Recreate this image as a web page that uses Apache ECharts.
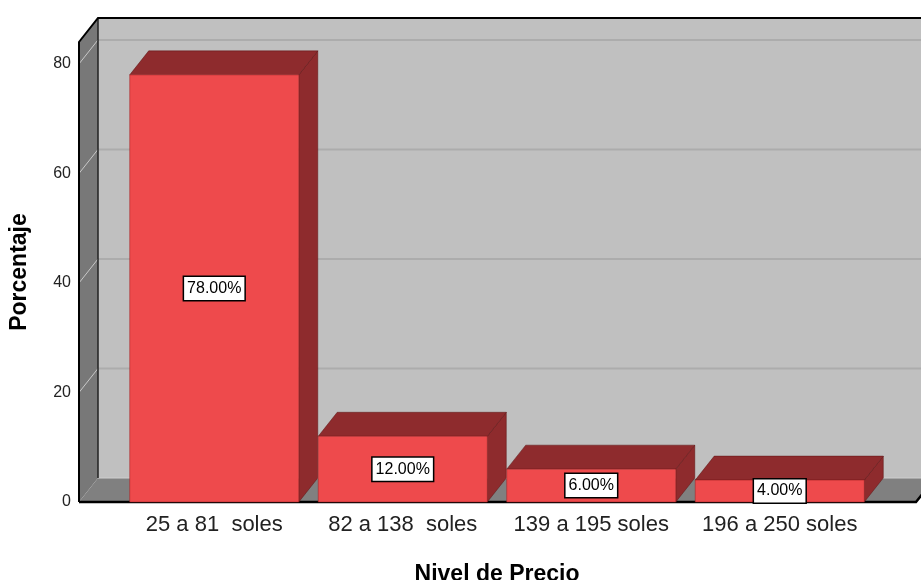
<!DOCTYPE html>
<html>
<head>
<meta charset="utf-8">
<script src="https://cdn.jsdelivr.net/npm/echarts@6/dist/echarts.min.js"></script>
<style>
  html, body { margin: 0; padding: 0; background: #fff; }
  #chart { width: 921px; height: 580px; }
</style>
</head>
<body>
<div id="chart"></div>
<script>
const categories = ['25 a 81  soles', '82 a 138  soles', '139 a 195 soles', '196 a 250 soles'];
const percentages = [78, 12, 6, 4];
const yTicks = [0, 20, 40, 60, 80];

// fake 3d depth
const DX = 19;
const DY = -24;
const FONT = '"Liberation Sans", Arial, sans-serif';

const chart = echarts.init(document.getElementById('chart'));

// walls, floor and grid lines, drawn once from the grid rect
const renderBackground = (params, api) => {
  const cs = params.coordSys;
  const L = cs.x - 41;
  const R = cs.x + cs.width + 42;
  const top = cs.y;
  const bottom = cs.y + cs.height;
  const children = [];
  // back wall
  children.push({ type: 'rect', shape: { x: L + DX, y: top + DY, width: R - L + 40, height: bottom - top },
    style: { fill: '#c0c0c0' } });
  // left wall
  children.push({ type: 'polygon', shape: { points: [[L, top], [L + DX, top + DY], [L + DX, bottom + DY], [L, bottom]] },
    style: { fill: '#787878' } });
  // floor
  children.push({ type: 'polygon', shape: { points: [[L, bottom], [L + DX, bottom + DY], [R + DX, bottom + DY], [R, bottom]] },
    style: { fill: '#808080' } });
  children.push({ type: 'line', shape: { x1: L + DX, y1: bottom + DY, x2: R + DX, y2: bottom + DY },
    style: { stroke: '#cfcfcf', lineWidth: 1 } });
  yTicks.forEach((v) => {
    if (v === 0) return;
    const y = api.coord([0, v])[1];
    children.push({ type: 'line', shape: { x1: L + DX, y1: y + DY, x2: R + DX + 40, y2: y + DY },
      style: { stroke: '#acacac', lineWidth: 2 } });
    children.push({ type: 'line', shape: { x1: L, y1: y, x2: L + DX, y2: y + DY },
      style: { stroke: '#c8c8c8', lineWidth: 1 } });
  });
  // edges
  children.push({ type: 'line', shape: { x1: L + DX, y1: top + DY, x2: L + DX, y2: bottom + DY },
    style: { stroke: '#222', lineWidth: 1.5 } });
  children.push({ type: 'polyline', shape: { points: [[L, bottom], [L, top], [L + DX, top + DY], [R + DX + 40, top + DY]] },
    style: { stroke: '#000', lineWidth: 2, fill: null } });
  children.push({ type: 'polyline', shape: { points: [[L, bottom], [R, bottom], [R + DX, bottom + DY]] },
    style: { stroke: '#000', lineWidth: 2.5, fill: null } });
  return { type: 'group', children };
};

const renderBar = (params, api) => {
  const idx = api.value(0);
  const val = api.value(1);
  const topPt = api.coord([idx, val]);
  const basePt = api.coord([idx, 0]);
  const w = api.size([1, 0])[0] * 0.897;
  const x0 = topPt[0] - w / 2;
  const x1 = x0 + w;
  const yTop = topPt[1];
  const y0 = basePt[1];
  const edge = 'rgba(90,20,20,0.6)';
  return {
    type: 'group',
    children: [
      { type: 'polygon', shape: { points: [[x1, yTop], [x1 + DX, yTop + DY], [x1 + DX, y0 + DY], [x1, y0]] },
        style: { fill: '#8e2b2d', stroke: edge, lineWidth: 0.8 } },
      { type: 'polygon', shape: { points: [[x0, yTop], [x0 + DX, yTop + DY], [x1 + DX, yTop + DY], [x1, yTop]] },
        style: { fill: '#8e2b2d', stroke: edge, lineWidth: 0.8 } },
      { type: 'rect', shape: { x: x0, y: yTop, width: w, height: y0 - yTop },
        style: { fill: '#ee4a4c', stroke: 'rgba(150,30,30,0.6)', lineWidth: 0.8 } },
      { type: 'text', z2: 10,
        style: {
          text: val.toFixed(2) + '%',
          x: (x0 + x1) / 2, y: (yTop + y0) / 2,
          align: 'center', verticalAlign: 'middle',
          fill: '#000', fontSize: 16, fontFamily: FONT,
          backgroundColor: '#fff', borderColor: '#000', borderWidth: 1.5,
          padding: [4, 3, 3, 3]
        } }
    ]
  };
};

const option = {
  animation: false,
  backgroundColor: '#fff',
  grid: { left: 120, right: 47, top: 42, bottom: 78, outerBoundsMode: 'none', containLabel: false },
  xAxis: {
    type: 'category',
    data: categories,
    axisLine: { show: false },
    axisTick: { show: false },
    axisLabel: { color: '#222', fontSize: 22, fontFamily: FONT, margin: 12, interval: 0, hideOverlap: false },
    name: 'Nivel de Precio',
    nameLocation: 'middle',
    nameGap: 61,
    nameTextStyle: { color: '#000', fontSize: 23, fontWeight: 'bold', fontFamily: FONT }
  },
  yAxis: {
    type: 'value',
    min: 0,
    max: 84,
    interval: 20,
    offset: 41,
    axisLine: { show: false },
    axisTick: { show: false },
    splitLine: { show: false },
    axisLabel: { color: '#222', fontSize: 16, fontFamily: FONT, margin: 8, showMaxLabel: false },
    name: 'Porcentaje',
    nameLocation: 'middle',
    nameGap: 48,
    nameTextStyle: { color: '#000', fontSize: 23, fontWeight: 'bold', fontFamily: FONT }
  },
  series: [
    {
      type: 'custom',
      clip: false,
      silent: true,
      z: 1,
      data: [[0, 0]],
      renderItem: renderBackground
    },
    {
      type: 'custom',
      clip: false,
      z: 2,
      data: percentages.map((v, i) => [i, v]),
      renderItem: renderBar
    }
  ]
};

chart.setOption(option);
</script>
</body>
</html>
